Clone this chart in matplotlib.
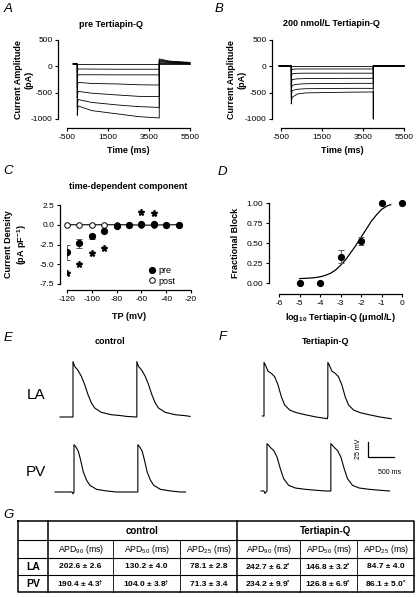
"""
Tertiapin-Q figure: IK,ACh-like current traces (A, B), time-dependent
current density (C), dose-response (D), action potentials (E, F) and the
APD table (G).
"""
import matplotlib
matplotlib.use("Agg")
import matplotlib.pyplot as plt
from matplotlib.lines import Line2D
from matplotlib.ticker import FormatStrFormatter

W, H = 419, 597

plt.rcParams["font.family"] = ["Liberation Sans", "DejaVu Sans"]
plt.rcParams["mathtext.fontset"] = "custom"
plt.rcParams["mathtext.rm"] = "Liberation Sans"
plt.rcParams["mathtext.bf"] = "Liberation Sans:bold"
plt.rcParams["mathtext.it"] = "Liberation Sans:italic"
plt.rcParams["mathtext.default"] = "regular"
plt.rcParams["axes.unicode_minus"] = False

# ---- A: pre Tertiapin-Q sweeps (pA) ----
A_HOLD = 45
A_STEP_T = [40, 700, 2000, 3000, 4000]
A_SPIKE = [45, -100, -220, -400, -600, -780, -930]
A_STEP = [
    [45, 45, 45, 45, 45],
    [-50, -52, -55, -55, -55],
    [-160, -160, -162, -162, -162],
    [-305, -325, -335, -350, -355],
    [-475, -510, -545, -570, -575],
    [-630, -685, -735, -765, -780],
    [-750, -840, -905, -955, -980],
]
A_TAIL_T = [4000, 4500, 5500]
A_TAIL = [
    [45, 45, 45],
    [55, 50, 48],
    [70, 60, 52],
    [90, 70, 58],
    [105, 80, 62],
    [120, 90, 68],
    [140, 100, 75],
]

# ---- B: 200 nmol/L Tertiapin-Q sweeps (pA) ----
B_HOLD = 10
B_STEP_T = [40, 300, 700, 2000, 3000, 4000]
B_SPIKE = [10, -110, -220, -350, -480, -600, -715]
B_STEP = [
    [10, 10, 10, 10, 10, 10],
    [-55, -50, -50, -50, -50, -50],
    [-140, -132, -130, -130, -130, -130],
    [-250, -238, -232, -230, -228, -228],
    [-360, -340, -330, -325, -323, -323],
    [-460, -435, -425, -420, -418, -418],
    [-590, -525, -505, -495, -490, -487],
]
B_OFF_SPIKE = [10, 10, 10, 10, 10, 10, -1000]

# ---- C: time-dependent component ----
TP = [-120, -110, -100, -90, -80, -70, -60, -50, -40, -30]
PRE = [-3.45, -2.35, -1.45, -0.75, -0.15, 0.0, 0.15, 0.1, 0.0, 0.0]
PRE_ERR = [0.95, 0.6, 0.3, 0.2, 0.1, 0.05, 0.05, 0.05, 0.05, 0.05]
POST = [0.0, 0.0, 0.0, 0.0, 0.0, 0.0, -0.05, -0.05, 0.0, 0.0]
STAR_X = [-120, -110, -100, -90, -60, -50]
STAR_Y = [-6.1, -5.0, -3.6, -2.95, 1.65, 1.45]

# ---- D: fractional block ----
D_X = [-5, -4, -3, -2, -1, 0]
D_Y = [0.0, 0.0, 0.33, 0.52, 1.0, 1.0]
D_ERR = [0.0, 0.0, 0.08, 0.05, 0.0, 0.0]
FIT_X = [-5.0, -4.75, -4.5, -4.25, -4.0, -3.75, -3.5, -3.25, -3.0, -2.75,
         -2.5, -2.25, -2.0, -1.75, -1.5, -1.25, -1.0, -0.75, -0.55]
FIT_Y = [0.055, 0.058, 0.062, 0.067, 0.077, 0.095, 0.12, 0.16, 0.22, 0.29,
         0.38, 0.47, 0.57, 0.67, 0.77, 0.85, 0.92, 0.96, 0.98]

# ---- E/F: action potentials (ms, mV), one beat each ----
CYCLE_MS = 1245
E_LA_T = [-253, 0, 0, 33, 98, 164, 228, 293, 359, 423, 554, 749, 944, 1040]
E_LA_V = [-80, -80, 12.6, 4.5, -2.2, -12.2, -26, -42.8, -56.6, -65, -72.3, -76.2, -77.8, -79]
E_PV_T = [-370, -40, -20, 0, 0, 39, 85, 130, 182, 247, 312, 442, 637, 832, 929]
E_PV_V = [-80, -80, -83, -80, -1, -5, -12, -27, -46.7, -60.6, -69, -75.6, -78.3, -80, -80]
F_LA_T = [-33, 0, 0, 33, 78, 143, 208, 273, 338, 403, 500, 630, 825, 1020, 1235]
F_LA_V = [-80, -80, 9.5, 4, -5, -8.8, -14.4, -28, -47.8, -61.6, -70, -74.4, -78.3, -81.7, -84.5]
F_PV_T = [-117, -60, -40, 0, 0, 33, 78, 130, 195, 260, 325, 423, 553, 748, 975, 1145]
F_PV_V = [-80, -80, -84, -80, -1, -3.8, -8.3, -12.2, -23.3, -42.7, -59.4, -70.6, -75, -77.2, -78.9, -80]
SCALE_MS, SCALE_MV = 500, 25

# ---- G: APD table ----
GROUPS = ["control", "Tertiapin-Q"]
APD_COLS = ["APD$_{90}$ (ms)", "APD$_{50}$ (ms)", "APD$_{25}$ (ms)"] * 2
ROWS = ["LA", "PV"]
VALUES = [
    ["202.6 ± 2.6", "130.2 ± 4.0", "78.1 ± 2.8",
     "242.7 ± 6.2$^{*}$", "146.8 ± 3.2$^{*}$", "84.7 ± 4.0"],
    ["190.4 ± 4.3$^{†}$", "104.0 ± 3.8$^{†}$", "71.3 ± 3.4",
     "234.2 ± 9.9$^{*}$", "126.8 ± 6.9$^{*}$", "86.1 ± 5.0$^{*}$"],
]

fig = plt.figure(figsize=(W / 100, H / 100), dpi=100)


def px_axes(x0, y0, x1, y1):
    return fig.add_axes([x0 / W, 1 - y1 / H, (x1 - x0) / W, (y1 - y0) / H])


def prism(ax, left_off, bottom_off):
    for s in ("top", "right"):
        ax.spines[s].set_visible(False)
    ax.spines["left"].set_position(("outward", left_off * 0.72))
    ax.spines["bottom"].set_position(("outward", bottom_off * 0.72))
    for s in ("left", "bottom"):
        ax.spines[s].set_linewidth(0.9)
    ax.tick_params(length=2.5, width=0.8, labelsize=6, pad=1.5)
    ax.patch.set_visible(False)


def label_pos(ax, xl, yl):
    ax.xaxis.set_label_coords(0.5, xl)
    ax.yaxis.set_label_coords(yl, 0.5)


bold = dict(fontsize=6.5, fontweight="bold")

# A
ax = px_axes(67, 40, 190, 119)
for i in range(len(A_STEP)):
    t = [-200, 0, 0] + A_STEP_T + A_TAIL_T
    v = [A_HOLD, A_HOLD, A_SPIKE[i]] + A_STEP[i] + A_TAIL[i]
    ax.plot(t, v, color="k", lw=0.6, clip_on=False)
ax.set_xlim(-500, 5500)
ax.set_ylim(-1000, 500)
ax.set_xticks([-500, 1500, 3500, 5500])
ax.set_yticks([-1000, -500, 0, 500])
prism(ax, 9, 9)
ax.set_xlabel("Time (ms)", **bold)
ax.set_ylabel("Current Amplitude\n(pA)", **bold)
label_pos(ax, -0.34, -0.27)
ax.text(0.36, 1.2, "pre Tertiapin-Q", transform=ax.transAxes,
        ha="center", va="center", **bold)

# B
ax = px_axes(281, 40, 404, 119)
for i in range(len(B_STEP)):
    t = [-600, 0, 0] + B_STEP_T + [4000, 4000, 5500]
    v = [B_HOLD, B_HOLD, B_SPIKE[i]] + B_STEP[i] + [B_OFF_SPIKE[i], B_HOLD, B_HOLD]
    ax.plot(t, v, color="k", lw=0.6, clip_on=False)
ax.set_xlim(-500, 5500)
ax.set_ylim(-1000, 500)
ax.set_xticks([-500, 1500, 3500, 5500])
ax.set_yticks([-1000, -500, 0, 500])
prism(ax, 9, 9)
ax.set_xlabel("Time (ms)", **bold)
ax.set_ylabel("Current Amplitude\n(pA)", **bold)
label_pos(ax, -0.34, -0.28)
ax.text(0.41, 1.21, "200 nmol/L Tertiapin-Q", transform=ax.transAxes,
        ha="center", va="center", **bold)

# C
ax = px_axes(67, 205, 191, 284)
ax.plot(TP, POST, "o-", color="k", mfc="white", mec="k", mew=0.7, ms=4,
        lw=0.8, zorder=2, clip_on=False)
ax.errorbar(TP, PRE, yerr=PRE_ERR, fmt="o", color="k", ecolor="0.35", ms=4.2,
            capsize=2, elinewidth=0.7, capthick=0.7, zorder=3)
ax.plot(STAR_X, STAR_Y, ls="none", marker="$*$", ms=4, color="k")
ax.set_xlim(-120, -20)
ax.set_ylim(-7.5, 2.5)
ax.set_xticks(range(-120, -19, 20))
ax.set_yticks([-7.5, -5.0, -2.5, 0.0, 2.5])
ax.yaxis.set_major_formatter(FormatStrFormatter("%.1f"))
prism(ax, 7, 6)
ax.set_xlabel("TP (mV)", **bold)
ax.set_ylabel("Current Density\n(pA pF$^{-1}$)", **bold)
label_pos(ax, -0.35, -0.31)
ax.text(0.49, 1.23, "time-dependent component", transform=ax.transAxes,
        ha="center", va="center", **bold)
handles = [
    Line2D([], [], ls="none", marker="o", color="k", ms=4.2),
    Line2D([], [], ls="none", marker="o", mfc="white", mec="k", mew=0.7, ms=4),
]
ax.legend(handles, ["pre", "post"], loc="lower left",
          bbox_to_anchor=(0.59, -0.1), frameon=False, fontsize=6.5,
          handletextpad=0.1, labelspacing=0.15, handlelength=1.2,
          borderpad=0.2)

# D
ax = px_axes(279, 203, 402, 283)
ax.plot(FIT_X, FIT_Y, color="k", lw=0.9)
ax.errorbar(D_X, D_Y, yerr=D_ERR, fmt="o", color="k", ecolor="0.35", ms=4.2,
            capsize=2, elinewidth=0.7, capthick=0.7, clip_on=False, zorder=3)
ax.set_xlim(-6, 0)
ax.set_ylim(0, 1)
ax.set_xticks(range(-6, 1))
ax.set_yticks([0, 0.25, 0.5, 0.75, 1.0])
ax.yaxis.set_major_formatter(FormatStrFormatter("%.2f"))
prism(ax, 10, 11)
ax.set_xlabel("log$_{10}$ Tertiapin-Q (μmol/L)", **bold)
ax.set_ylabel("Fractional Block", **bold)
label_pos(ax, -0.35, -0.32)

# E / F action potentials
MS_PER_PX, MV_PER_PX, REST = 19.5, 1.67, -80


def ap_axes(up_px, base_px, t, v):
    ax = px_axes(up_px - 20, base_px - 65, up_px + 135, base_px + 12)
    ax.set_xlim(-20 * MS_PER_PX, 135 * MS_PER_PX)
    ax.set_ylim(REST - 12 * MV_PER_PX, REST + 65 * MV_PER_PX)
    ax.axis("off")
    tt = t + [x + CYCLE_MS for x in t if x >= 0]
    vv = v + [y for x, y in zip(t, v) if x >= 0]
    ax.plot(tt, vv, color="k", lw=0.8)
    return ax


ap_axes(73, 417, E_LA_T, E_LA_V)
ap_axes(74, 492, E_PV_T, E_PV_V)
ap_axes(264, 416, F_LA_T, F_LA_V)
ax = ap_axes(267, 491, F_PV_T, F_PV_V)
x0 = (368 - 267) * MS_PER_PX
y0 = REST + (491 - 457) * MV_PER_PX
ax.plot([x0, x0, x0 + SCALE_MS], [y0 + SCALE_MV, y0, y0], color="k", lw=0.9,
        clip_on=False)
fig.text(358 / W, 1 - 449 / H, f"{SCALE_MV} mV", rotation=90, fontsize=5,
         ha="center", va="center")
fig.text(390 / W, 1 - 472 / H, f"{SCALE_MS} ms", fontsize=5,
         ha="center", va="center")

fig.text(110 / W, 1 - 342 / H, "control", ha="center", va="center", **bold)
fig.text(326 / W, 1 - 342 / H, "Tertiapin-Q", ha="center", va="center", **bold)
fig.text(36 / W, 1 - 395 / H, "LA", ha="center", va="center", fontsize=11)
fig.text(36 / W, 1 - 472 / H, "PV", ha="center", va="center", fontsize=11)

# panel letters
for letter, (px, py) in zip("ABCDEFG", [(8, 9), (219, 9), (8, 171), (222, 172),
                                       (8, 338), (223, 337), (8, 515)]):
    fig.text(px / W, 1 - py / H, letter, fontsize=9.5, style="italic",
             ha="center", va="center")

# G table
tab = fig.add_axes([0, 0, 1, 1])
tab.set_xlim(0, W)
tab.set_ylim(H, 0)
tab.axis("off")
xe = [18, 48, 113, 180, 237, 300, 357, 414]
ye = [521, 540, 558, 575, 592]
tab.plot([xe[0], xe[-1], xe[-1], xe[0], xe[0]],
         [ye[0], ye[0], ye[-1], ye[-1], ye[0]], color="k", lw=1.1)
for y in ye[1:-1]:
    tab.plot([xe[0], xe[-1]], [y, y], color="k", lw=0.8)
for x in (xe[1], xe[4]):
    tab.plot([x, x], [ye[0], ye[-1]], color="k", lw=1.1)
for x in xe[2:4] + xe[5:7]:
    tab.plot([x, x], [ye[1], ye[-1]], color="k", lw=0.6)
for g, name in enumerate(GROUPS):
    tab.text((xe[1 + 3 * g] + xe[4 + 3 * g]) / 2, (ye[0] + ye[1]) / 2 + 0.5,
             name, ha="center", va="center", fontsize=7, fontweight="bold")
for c, name in enumerate(APD_COLS):
    tab.text((xe[c + 1] + xe[c + 2]) / 2, (ye[1] + ye[2]) / 2 + 0.5, name,
             ha="center", va="center", fontsize=6.2)
for r, name in enumerate(ROWS):
    yc = (ye[r + 2] + ye[r + 3]) / 2 + 0.5
    tab.text((xe[0] + xe[1]) / 2, yc, name, ha="center", va="center",
             fontsize=7.5, fontweight="bold")
    for c, val in enumerate(VALUES[r]):
        tab.text((xe[c + 1] + xe[c + 2]) / 2, yc, val, ha="center",
                 va="center", fontsize=6, fontweight="bold")

fig.savefig("out.png", dpi=100)
